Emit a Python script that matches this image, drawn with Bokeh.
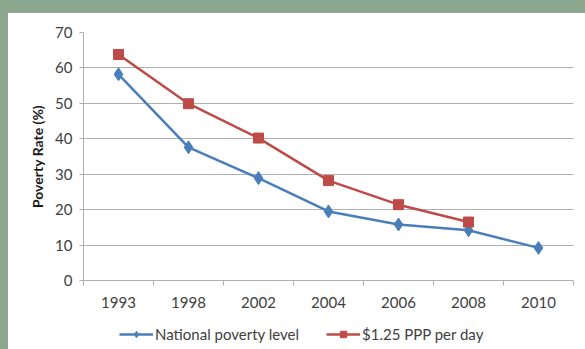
from bokeh.plotting import figure
from bokeh.layouts import column
from bokeh.models import (Range1d, FixedTicker, Legend, LegendItem)
from bokeh.embed import file_html
from bokeh.resources import INLINE

# Poverty rate by survey year
years = ["1993", "1998", "2002", "2004", "2006", "2008", "2010"]
national_level = [58.2, 37.6, 28.9, 19.5, 15.8, 14.2, 9.2]
ppp_125 = [63.8, 49.9, 40.2, 28.2, 21.4, 16.5]
y_ticks = [0, 10, 20, 30, 40, 50, 60, 70]
series_names = ["National poverty level", "$1.25 PPP per day"]

BLUE = "#4a7ebb"
RED = "#be4b48"
GREEN = "#8ba78e"
GRID = "#b0b0b0"
FONT = "Lato"
TEXT = "#404040"

x_nat = list(range(len(national_level)))
x_ppp = list(range(len(ppp_125)))

p = figure(width=577, height=306, output_backend="svg", toolbar_location=None,
           x_range=Range1d(-0.5, len(years) - 0.5), y_range=Range1d(0, 70),
           min_border_left=75, min_border_right=12, min_border_top=19,
           min_border_bottom=39, background_fill_color="white",
           border_fill_color="white", outline_line_color=None)

# horizontal gridlines only
p.xgrid.grid_line_color = None
p.ygrid.grid_line_color = GRID
p.ygrid.grid_line_width = 1
p.ygrid.ticker = FixedTicker(ticks=y_ticks)

# category axis: labels at centres, small ticks on the boundaries
p.xaxis.ticker = FixedTicker(ticks=x_nat,
                             minor_ticks=[i - 0.5 for i in range(len(years) + 1)])
p.xaxis.major_label_overrides = {i: y for i, y in enumerate(years)}
p.xaxis.major_tick_line_color = None
p.xaxis.major_tick_out = 0
p.xaxis.major_tick_in = 0
p.xaxis.minor_tick_line_color = GRID
p.xaxis.minor_tick_out = 5
p.xaxis.minor_tick_in = 0
p.xaxis.major_label_standoff = 11

p.yaxis.ticker = FixedTicker(ticks=y_ticks)
p.yaxis.minor_tick_line_color = None
p.yaxis.major_tick_out = 4
p.yaxis.major_tick_in = 0
p.yaxis.major_tick_line_color = GRID
p.yaxis.major_label_standoff = 7
p.yaxis.axis_label = "Poverty Rate (%)"
p.yaxis.axis_label_text_font = FONT
p.yaxis.axis_label_text_font_style = "bold"
p.yaxis.axis_label_text_font_size = "14px"
p.yaxis.axis_label_text_color = "#1a1a1a"
p.yaxis.axis_label_standoff = 6

for ax in (p.xaxis, p.yaxis):
    ax.axis_line_color = GRID
    ax.major_label_text_font = FONT
    ax.major_label_text_font_size = "15px"
    ax.major_label_text_color = TEXT

line_style = dict(line_width=2.5)
nat_marker = dict(marker="diamond", size=13)
ppp_marker = dict(marker="square", size=10)

p.line(x_nat, national_level, line_color=BLUE, **line_style)
p.scatter(x_nat, national_level, fill_color=BLUE, line_color=BLUE, **nat_marker)
p.line(x_ppp, ppp_125, line_color=RED, **line_style)
p.scatter(x_ppp, ppp_125, fill_color=RED, line_color=RED, **ppp_marker)

# legend strip underneath the chart, using key glyphs with the same styles
key = figure(width=577, height=30, output_backend="svg", toolbar_location=None,
             x_range=Range1d(0, 1), y_range=Range1d(0, 1),
             min_border_left=75, min_border_right=12, min_border_top=0,
             min_border_bottom=0, background_fill_color="white",
             border_fill_color="white", outline_line_color=None)
key.xaxis.visible = False
key.yaxis.visible = False
key.xgrid.visible = False
key.ygrid.visible = False
k_nat = [key.line([-1, -1], [-1, -1], line_color=BLUE, **line_style),
         key.scatter([-1], [-1], fill_color=BLUE, line_color=BLUE, **nat_marker)]
k_ppp = [key.line([-1, -1], [-1, -1], line_color=RED, **line_style),
         key.scatter([-1], [-1], fill_color=RED, line_color=RED, **ppp_marker)]

legend = Legend(items=[
    LegendItem(label=series_names[0], renderers=k_nat),
    LegendItem(label=series_names[1], renderers=k_ppp),
], orientation="horizontal", location=(36, 6),
    border_line_color=None, background_fill_alpha=0,
    label_text_font=FONT, label_text_font_size="15px",
    label_text_color=TEXT, glyph_width=34, glyph_height=16,
    label_standoff=2, spacing=27, padding=5, margin=0)
key.add_layout(legend)

# white card holding chart and legend, on a green page
card = column(p, key, spacing=0, margin=(13, 0, 0, 8),
              styles={"background-color": "white",
                      "box-shadow": "-1px -1px 0 0 #9a9f9a"})
layout = column(card, styles={"background-color": GREEN})

open("out.html", "w").write(file_html(layout, INLINE))
